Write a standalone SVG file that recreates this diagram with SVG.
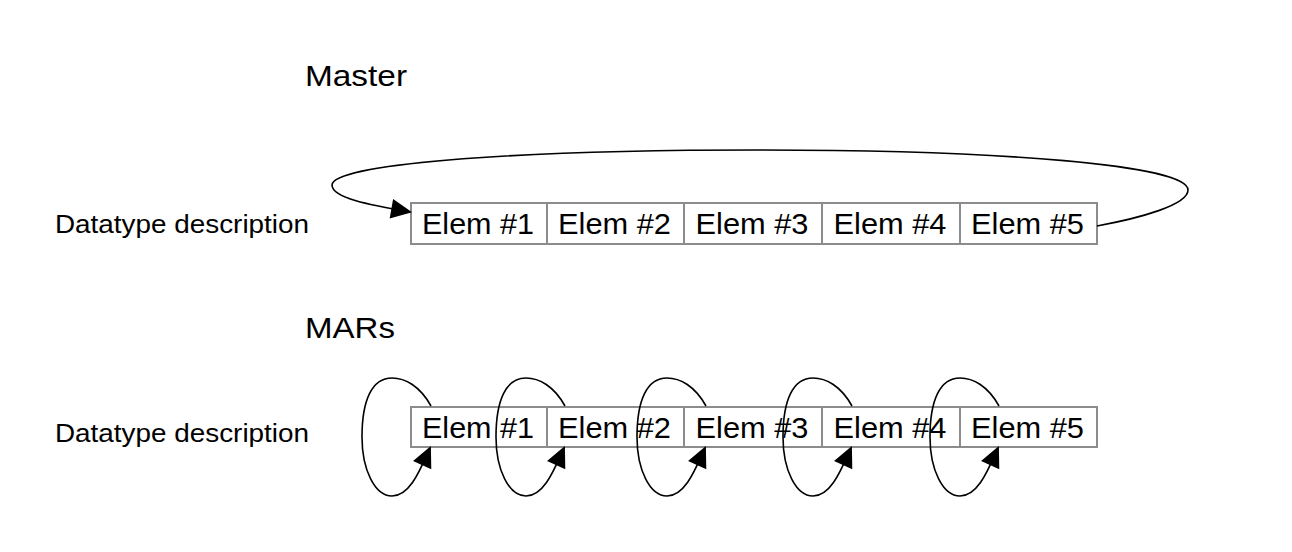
<svg xmlns="http://www.w3.org/2000/svg" width="1292" height="552" viewBox="0 0 1292 552">
<style>
text{font-family:"Liberation Sans",Arial,sans-serif;fill:#000}
.title{font-size:30px}
.label{font-size:25px}
.elem{font-size:30px;text-anchor:middle}
.cell{fill:#fff;stroke:#8c8c8c;stroke-width:2}
.edge{fill:none;stroke:#000;stroke-width:1.6}
</style>
<defs>
<marker id="arr" viewBox="0 0 10 10" refX="9" refY="5" markerWidth="10" markerHeight="10" markerUnits="userSpaceOnUse" orient="auto" overflow="visible">
<path d="M0,0 L10,5 L0,10 Z" fill="#000" transform="translate(9,5) scale(2.1,2.0) translate(-9,-5)"/>
</marker>
</defs>
<rect width="1292" height="552" fill="#fff"/>
<g id="title-master"><text class="title" x="305" y="86" textLength="102" lengthAdjust="spacingAndGlyphs">Master</text></g>
<g id="title-mars"><text class="title" x="305" y="338" textLength="90" lengthAdjust="spacingAndGlyphs">MARs</text></g>
<g id="label-top"><text class="label" x="55" y="233" textLength="254" lengthAdjust="spacingAndGlyphs">Datatype description</text></g>
<g id="label-bottom"><text class="label" x="55" y="442" textLength="254" lengthAdjust="spacingAndGlyphs">Datatype description</text></g>
<g id="master-array">
<g id="m1"><rect class="cell" x="411" y="203" width="136" height="41"/><text class="elem" x="478" y="234" textLength="112" lengthAdjust="spacingAndGlyphs">Elem #1</text></g>
<g id="m2"><rect class="cell" x="547" y="203" width="137" height="41"/><text class="elem" x="614.5" y="234" textLength="113" lengthAdjust="spacingAndGlyphs">Elem #2</text></g>
<g id="m3"><rect class="cell" x="684" y="203" width="138" height="41"/><text class="elem" x="752" y="234" textLength="113" lengthAdjust="spacingAndGlyphs">Elem #3</text></g>
<g id="m4"><rect class="cell" x="822" y="203" width="138" height="41"/><text class="elem" x="890" y="234" textLength="113" lengthAdjust="spacingAndGlyphs">Elem #4</text></g>
<g id="m5"><rect class="cell" x="960" y="203" width="137" height="41"/><text class="elem" x="1027.5" y="234" textLength="113" lengthAdjust="spacingAndGlyphs">Elem #5</text></g>
</g>
<g id="mars-array">
<g id="r1"><rect class="cell" x="411" y="407" width="136" height="40"/><text class="elem" x="478" y="438" textLength="112" lengthAdjust="spacingAndGlyphs">Elem #1</text></g>
<g id="r2"><rect class="cell" x="547" y="407" width="137" height="40"/><text class="elem" x="614.5" y="438" textLength="113" lengthAdjust="spacingAndGlyphs">Elem #2</text></g>
<g id="r3"><rect class="cell" x="684" y="407" width="138" height="40"/><text class="elem" x="752" y="438" textLength="113" lengthAdjust="spacingAndGlyphs">Elem #3</text></g>
<g id="r4"><rect class="cell" x="822" y="407" width="138" height="40"/><text class="elem" x="890" y="438" textLength="113" lengthAdjust="spacingAndGlyphs">Elem #4</text></g>
<g id="r5"><rect class="cell" x="960" y="407" width="137" height="40"/><text class="elem" x="1027.5" y="438" textLength="113" lengthAdjust="spacingAndGlyphs">Elem #5</text></g>
</g>
<g id="connectors">
<path class="edge" marker-end="url(#arr)" d="M1097,226 C1140,218 1188,205 1188,190 C1188,165 1000,150 760,150 C500,150 332,165 332,185 C332,198 370,205 410,212"/>
<path class="edge" marker-end="url(#arr)" d="M431,406 C420,386 405,378 392,378 C372,378 362,400 362,437 C362,470 375,496 392,496 C410,496 420,470 430,448"/>
<path class="edge" marker-end="url(#arr)" transform="translate(134,0)" d="M431,406 C420,386 405,378 392,378 C372,378 362,400 362,437 C362,470 375,496 392,496 C410,496 420,470 430,448"/>
<path class="edge" marker-end="url(#arr)" transform="translate(275,0)" d="M431,406 C420,386 405,378 392,378 C372,378 362,400 362,437 C362,470 375,496 392,496 C410,496 420,470 430,448"/>
<path class="edge" marker-end="url(#arr)" transform="translate(421,0)" d="M431,406 C420,386 405,378 392,378 C372,378 362,400 362,437 C362,470 375,496 392,496 C410,496 420,470 430,448"/>
<path class="edge" marker-end="url(#arr)" transform="translate(568,0)" d="M431,406 C420,386 405,378 392,378 C372,378 362,400 362,437 C362,470 375,496 392,496 C410,496 420,470 430,448"/>
</g>
</svg>
